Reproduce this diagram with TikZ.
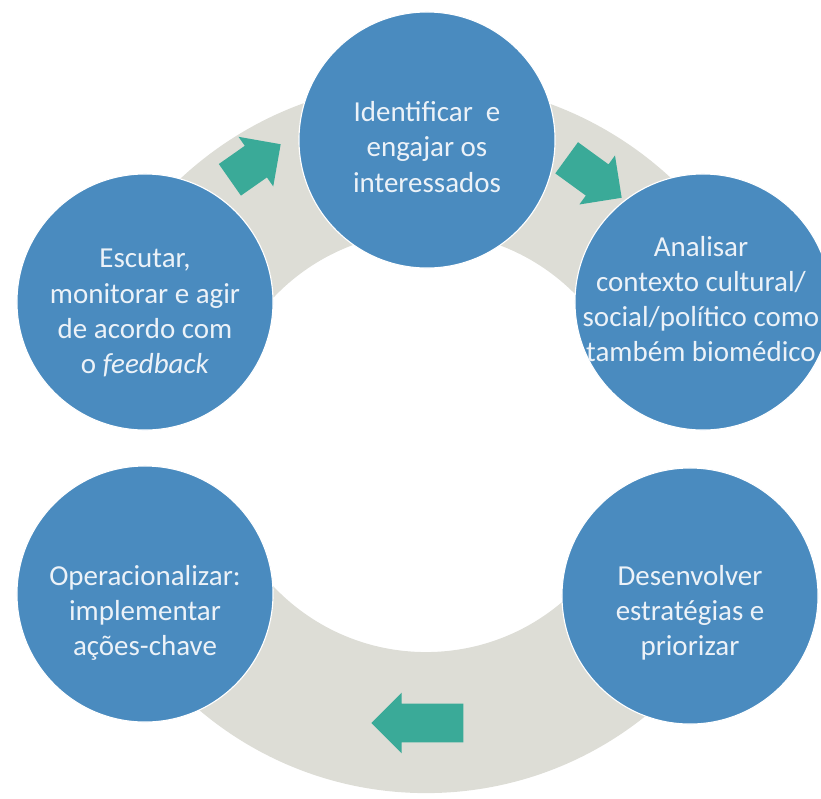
\documentclass[tikz,border=0pt]{standalone}
\usepackage{fontspec}
\setmainfont{Carlito}
\usetikzlibrary{shapes.arrows}

\definecolor{bubbleblue}{RGB}{74,139,191}
\definecolor{ringgray}{RGB}{221,221,214}
\definecolor{arrowteal}{RGB}{58,170,152}
\definecolor{textwhite}{RGB}{236,242,248}

\begin{document}
\begin{tikzpicture}[x=0.025cm, y=-0.025cm]
        % Define styles for shapes
        \tikzset{
            bubble/.style={circle, fill=bubbleblue, draw=white, line width=0.8pt, minimum size=6.4cm, inner sep=0pt},
            bubbletext/.style={text=textwhite, align=center, font=\fontsize{20.6}{25}\selectfont},
            blockarrow/.style={single arrow, fill=arrowteal, inner xsep=0pt, inner ysep=0.475cm,
                single arrow head extend=0.275cm, anchor=tip}
        }
        \useasboundingbox (0,0) rectangle (821,798);
        \clip (0,0) rectangle (821,798);
        % Gray ring, upper and lower part
        \coordinate (ringc) at (426,442);
        \begin{scope}
            \clip (0,0) rectangle (821,330);
            \fill[ringgray, even odd rule] (ringc) circle[radius=9cm] (ringc) circle[radius=5.25cm];
        \end{scope}
        \begin{scope}
            \clip (0,560) rectangle (821,798);
            \fill[ringgray, even odd rule] (ringc) circle[radius=8.775cm] (ringc) circle[radius=5.25cm];
        \end{scope}
        % Draw circles
        \node[bubble] (ident) at (427,140) {};
        \node[bubble] (escut) at (145,302) {};
        \node[bubble] (anal) at (703,302) {};
        \node[bubble] (oper) at (145,594) {};
        \node[bubble] (desenv) at (690,596) {};
        % Texts
        \node[bubbletext] (ident-t) at (427,147) {Identificar\ \ e\\engajar os\\interessados};
        \node[bubbletext] (escut-t) at (145,313) {Escutar,\\monitorar e agir\\de acordo com\\o \textit{feedback}};
        \node[bubbletext] (anal-t) at (701,299) {Analisar\\contexto cultural/\\social/político como\\também biomédico};
        \node[bubbletext] (oper-t) at (145,613) {Operacionalizar:\\implementar\\ações-chave};
        \node[bubbletext] (desenv-t) at (690,613) {Desenvolver\\estratégias e\\priorizar};
        % Draw arrows
        \node[blockarrow, minimum height=1.55cm, rotate=35] (arr1) at (281,144) {};
        \node[blockarrow, minimum height=1.7cm, rotate=-36] (arr2) at (622,198) {};
        \node[blockarrow, minimum height=2.3cm, rotate=180] (arr3) at (371,723) {};
\end{tikzpicture}
\end{document}
